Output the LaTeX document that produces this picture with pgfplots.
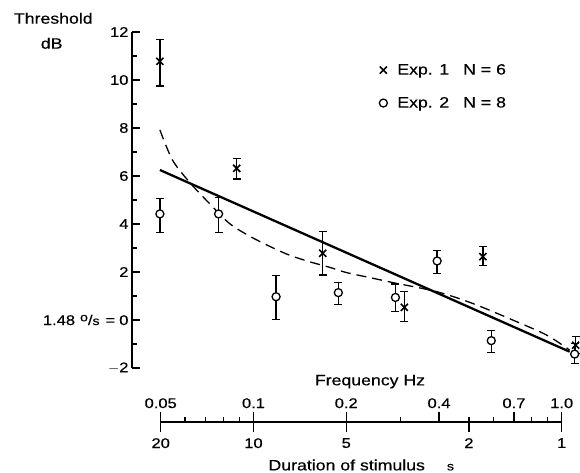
\documentclass[border=0pt]{standalone}
\usepackage{fontspec}
\setmainfont{Liberation Sans}[FakeStretch=1.18, FakeBold=0.4]
\usepackage{pgfplots}
\usepackage{pgfplotstable}
\pgfplotsset{compat=1.18}

\pgfplotstableread{
f y ep em
0.05 10.78 0.92 1.03
0.0887 6.32 0.42 0.45
0.1685 2.78 0.90 0.90
0.310 0.53 0.65 0.60
0.557 2.64 0.41 0.38
1.113 -1.05 0.35 0.35
}\expone

\pgfplotstableread{
f y ep em
0.05 4.42 0.65 0.78
0.0775 4.42 0.69 0.78
0.119 0.97 0.88 0.94
0.1894 1.14 0.43 0.49
0.290 0.94 0.56 0.59
0.396 2.46 0.43 0.52
0.593 -0.86 0.41 0.49
1.105 -1.42 0.45 0.40
}\exptwo

\pgfplotstableread{
f y
0.05 6.25
1.064 -1.32
}\solidfit

\pgfplotstableread{
f y
0.05 7.92
0.0549 6.67
0.0622 5.76
0.0723 4.86
0.0839 4.03
0.0975 3.50
0.113 3.08
0.131 2.71
0.1525 2.43
0.177 2.20
0.2007 1.98
0.245 1.74
0.2916 1.53
0.347 1.34
0.40 1.16
0.46 0.92
0.543 0.58
0.696 0.00
0.894 -0.62
1.064 -1.25
}\dashfit

\begin{document}
\begin{tikzpicture}
\path[use as bounding box] (-132pt,-104pt) rectangle (448pt,368pt);

\begin{axis}[
  at={(0pt,0pt)}, anchor=south west,
  scale only axis, width=448pt, height=336pt,
  xmode=log, xmin=0.0406, xmax=1.15,
  ymin=-2, ymax=12,
  axis x line=none, axis y line=left,
  axis line style={line width=2pt, -},
  xtick=\empty,
  ytick={-2,0,2,4,6,8,10,12},
  yticklabels={{$-$2},{1.48\kern5pt\raisebox{0.5ex}{\fontsize{12}{12}\selectfont o}/{\fontsize{12}{12}\selectfont s}\kern6pt=\kern4pt0},2,4,6,8,10,12},
  minor ytick={-1,1,3,5,7,9,11},
  tick align=inside,
  major tick length=8pt, minor tick length=5pt,
  tick style={line width=1.3pt, black},
  yticklabel style={font=\fontsize{14}{16}\selectfont},
  clip=false,
  legend style={draw=none, fill=none, at={(0.545,0.917)}, anchor=north west,
    font=\fontsize{15}{17}\selectfont, row sep=17pt},
  legend cell align=left,
]
\addplot[only marks, mark=x, mark size=5pt, line width=1.6pt,
  error bars/.cd, y dir=both, y explicit,
  error bar style={line width=1.3pt},
  error mark options={rotate=90, mark size=4pt, line width=1.3pt}]
  table[x=f, y=y, y error plus=ep, y error minus=em] {\expone};
\addlegendentry{\hspace{8pt}Exp. 1\hspace{14pt}N = 6}
\addplot[only marks, mark=*, mark size=4pt, mark options={fill=white, draw=black, line width=1.3pt},
  error bars/.cd, y dir=both, y explicit,
  error bar style={line width=1.3pt},
  error mark options={rotate=90, mark size=4pt, line width=1.3pt}]
  table[x=f, y=y, y error plus=ep, y error minus=em] {\exptwo};
\addlegendentry{\hspace{8pt}Exp. 2\hspace{14pt}N = 8}
\addplot[forget plot, black, line width=2.3pt] table[x=f, y=y] {\solidfit};
\addplot[forget plot, black, line width=1.3pt, dash pattern=on 10pt off 6pt, smooth] table[x=f, y=y] {\dashfit};
\end{axis}

% frequency scale (labels above)
\begin{axis}[
  at={(28.7pt,-63.7pt)}, anchor=south west,
  scale only axis, width=401pt, height=10pt,
  xmode=log, xmin=0.05, xmax=1.0, ymin=0, ymax=1,
  axis x line=top, axis y line=none,
  axis line style={line width=1.7pt, -},
  xtick={0.05,0.1,0.2,0.4,0.7,1.0},
  xticklabels={0.05,0.1,0.2,0.4,0.7,1.0},
  minor xtick={0.06,0.07,0.08,0.09,0.3,0.5,0.6,0.8,0.9},
  tick align=outside,
  major tick length=10pt, minor tick length=5pt,
  tick style={line width=1.3pt, black},
  xticklabel style={font=\fontsize{14}{16}\selectfont},
]
\end{axis}

% duration scale (labels below)
\begin{axis}[
  at={(28.7pt,-53.7pt)}, anchor=south west,
  scale only axis, width=401pt, height=10pt,
  xmode=log, xmin=0.05, xmax=1.0, ymin=0, ymax=1,
  axis x line=bottom, axis y line=none,
  axis line style={line width=1.7pt, -},
  xtick={0.05,0.1,0.2,0.5,1.0},
  xticklabels={20,10,5,2,1},
  minor xtick={},
  tick align=outside,
  major tick length=10pt,
  tick style={line width=1.3pt, black},
  xticklabel style={font=\fontsize{14}{16}\selectfont, yshift=-3pt},
]
\end{axis}

\node[font=\fontsize{15}{17}\selectfont] at (-78.7pt,349.7pt) {Threshold};
\node[font=\fontsize{15}{17}\selectfont] at (-80.3pt,324.7pt) {dB};
\node[font=\fontsize{15}{17}\selectfont] at (238pt,-13.7pt) {Frequency Hz};
\node[font=\fontsize{15}{17}\selectfont, anchor=west] at (133pt,-97pt) {Duration of stimulus\hspace{22pt}{\fontsize{12}{12}\selectfont s}};
\end{tikzpicture}
\end{document}
